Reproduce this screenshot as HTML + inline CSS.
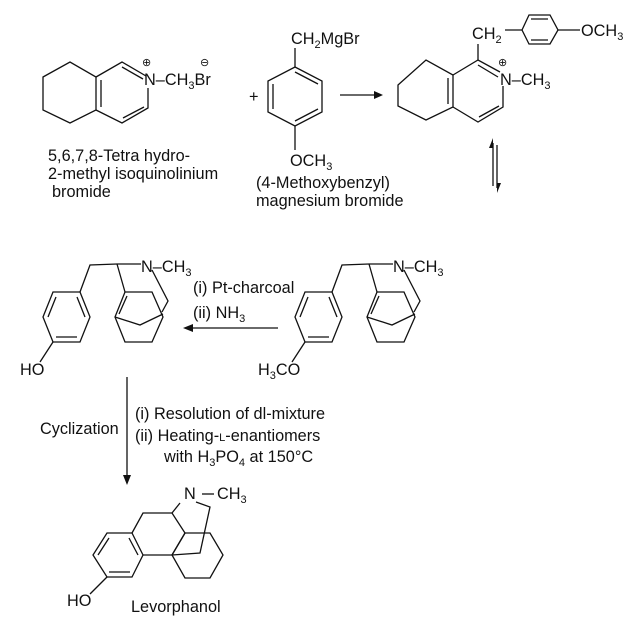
<!DOCTYPE html>
<html><head><meta charset="utf-8"><style>
html,body{margin:0;padding:0;background:#fff}
svg{display:block}
text{font-family:"Liberation Sans",Arial,sans-serif;font-size:16.3px;fill:#111}
.s{font-size:11px}
</style></head><body>
<svg width="643" height="627" viewBox="0 0 643 627" xmlns="http://www.w3.org/2000/svg">
<g stroke="#111" stroke-width="1.3" fill="none">
<polygon points="43,77 70,62 96,77 96,110 70,123 43,110"/>
<polyline points="96,77 122,62 146,76"/>
<polyline points="148,88 148,108 122,123 96,110"/>
<line x1="101" y1="80" x2="101" y2="107"/>
<line x1="122" y1="67" x2="143" y2="79"/>
<line x1="144" y1="107" x2="123" y2="118"/>
<polygon points="295,67 322,81 322,112 295,126 268,112 268,81"/>
<line x1="273" y1="84" x2="273" y2="109"/>
<line x1="295" y1="72" x2="318" y2="84"/>
<line x1="295" y1="121" x2="318" y2="109"/>
<line x1="295" y1="67" x2="295" y2="48"/>
<line x1="295" y1="126" x2="295" y2="150"/>
<line x1="340" y1="95" x2="378" y2="95"/>
<polygon points="398,85 426,60 453,75 453,107 426,120 398,106" />
<polyline points="453,75 478,60 500,72"/>
<polyline points="503,86 503,107 478,122 453,107"/>
<line x1="448" y1="78" x2="448" y2="104"/>
<line x1="478" y1="65" x2="498" y2="77"/>
<line x1="499" y1="106" x2="479" y2="117"/>
<line x1="478" y1="60" x2="478" y2="44"/>
<line x1="505" y1="30" x2="522" y2="30"/>
<polygon points="522,30 529,15 550,15 558,30 550,44 529,44"/>
<line x1="531" y1="19" x2="548" y2="19"/>
<line x1="531" y1="40" x2="548" y2="40"/>
<line x1="558" y1="30" x2="580" y2="30"/>
<line x1="493" y1="143" x2="493" y2="186"/>
<line x1="497" y1="145" x2="497" y2="188"/>
<g id="mol">
<polyline points="80,292 90,265 117,264 141,264"/>
<polygon points="80,292 90,317 80,342 53,342 43,317 53,292"/>
<line x1="48" y1="317" x2="56" y2="297"/>
<line x1="56" y1="337" x2="77" y2="337"/>
<line x1="85" y1="317" x2="77" y2="297"/>
<line x1="53" y1="342" x2="40" y2="362"/>
<line x1="117" y1="264" x2="125" y2="292"/>
<polygon points="125,292 152,292 163,317 152,342 125,342 115,317"/>
<line x1="119" y1="314" x2="127" y2="296"/>
<polyline points="115,317 140,325 163,314"/>
<polyline points="152,270 168,301 162,312"/>
</g>
<use href="#mol" x="252" y="0"/>
<line x1="190" y1="328" x2="278" y2="328"/>
<line x1="127" y1="377" x2="127" y2="478"/>
<polygon points="107,533 132,533 143,555 132,577 107,577 93,555"/>
<line x1="98" y1="555" x2="109" y2="538"/>
<line x1="109" y1="572" x2="130" y2="572"/>
<line x1="138" y1="555" x2="129" y2="538"/>
<polyline points="132,533 143,513 172,513 185,533 172,555 143,555"/>
<line x1="172" y1="513" x2="180" y2="503"/>
<polygon points="185,533 210,533 223,555 210,578 185,578 172,555"/>
<polyline points="196,502 210,507 200,553 172,555"/>
<line x1="202" y1="494" x2="214" y2="494"/>
<line x1="107" y1="577" x2="90" y2="594"/>
</g>
<g fill="#111">
<polygon points="383,95 374,91 374,99"/>
<polygon points="493,138 489,148 493,148"/>
<polygon points="497,193 497,183 501,183"/>
<polygon points="183,328 193,324 193,332"/>
<polygon points="127,485 123,475 131,475"/>
</g>
<text x="144" y="85">N–CH<tspan class="s" dy="4">3</tspan><tspan dy="-4">Br</tspan></text>
<text x="142" y="66" class="s">⊕</text><text x="200" y="66" class="s">⊖</text>
<text x="48" y="161">5,6,7,8-Tetra hydro-</text>
<text x="48" y="179">2-methyl isoquinolinium</text>
<text x="52" y="197">bromide</text>
<text x="249" y="102">+</text>
<text x="291" y="44">CH<tspan class="s" dy="4">2</tspan><tspan dy="-4">MgBr</tspan></text>
<text x="290" y="166">OCH<tspan class="s" dy="4">3</tspan></text>
<text x="256" y="188">(4-Methoxybenzyl)</text>
<text x="256" y="206">magnesium bromide</text>
<text x="472" y="39">CH<tspan class="s" dy="4">2</tspan></text>
<text x="581" y="36">OCH<tspan class="s" dy="4">3</tspan></text>
<text x="500" y="85">N–CH<tspan class="s" dy="4">3</tspan></text>
<text x="498" y="66" class="s">⊕</text>
<text x="141" y="272">N–CH<tspan class="s" dy="4">3</tspan></text>
<text x="393" y="272">N–CH<tspan class="s" dy="4">3</tspan></text>
<text x="20" y="375">HO</text>
<text x="258" y="375">H<tspan class="s" dy="4">3</tspan><tspan dy="-4">CO</tspan></text>
<text x="193" y="293">(i) Pt-charcoal</text>
<text x="193" y="318">(ii) NH<tspan class="s" dy="4">3</tspan></text>
<text x="40" y="434">Cyclization</text>
<text x="135" y="419">(i) Resolution of dl-mixture</text>
<text x="135" y="441">(ii) Heating-<tspan style="font-size:11px">L</tspan>-enantiomers</text>
<text x="164" y="462">with H<tspan class="s" dy="4">3</tspan><tspan dy="-4">PO</tspan><tspan class="s" dy="4">4</tspan><tspan dy="-4"> at 150°C</tspan></text>
<text x="184" y="499">N</text>
<text x="217" y="499">CH<tspan class="s" dy="4">3</tspan></text>
<text x="67" y="606">HO</text>
<text x="131" y="612">Levorphanol</text>
</svg>
</body></html>
